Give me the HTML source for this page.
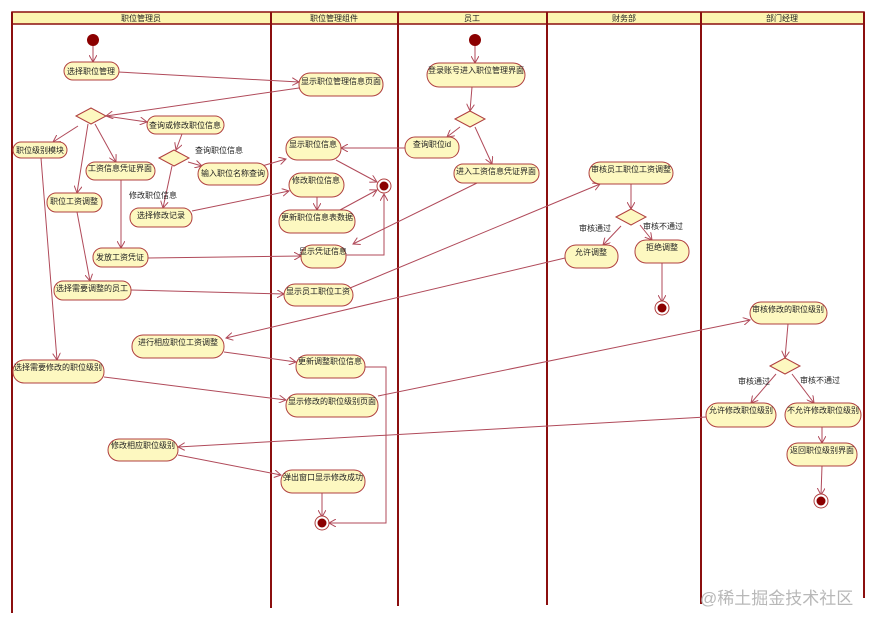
<!DOCTYPE html>
<html><head><meta charset="utf-8"><style>
html,body{margin:0;padding:0;background:#fff;}
svg{display:block;}
text{font-family:"Liberation Sans","Noto Sans CJK SC",sans-serif;font-size:8px;fill:#222;}
.n{fill:#fdf8c0;stroke:#b04040;stroke-width:1;}
.e{stroke:#b04a5a;stroke-width:1;fill:none;marker-end:url(#a);}
.l{stroke:#8b0f0f;stroke-width:2;}
</style></head><body>
<svg width="878" height="626" viewBox="0 0 878 626" xmlns="http://www.w3.org/2000/svg">
<defs><marker id="a" markerWidth="8" markerHeight="8" refX="7" refY="4" orient="auto" markerUnits="userSpaceOnUse"><path d="M0,0 L7,4 L0,8" fill="none" stroke="#b04a5a" stroke-width="1"/></marker></defs>
<rect x="12" y="12" width="852" height="12" fill="#fdf5b0" stroke="#8b0f0f" stroke-width="1.5"/>
<line class="l" x1="12" y1="12" x2="12" y2="613"/>
<line class="l" x1="271" y1="12" x2="271" y2="608"/>
<line class="l" x1="398" y1="12" x2="398" y2="606"/>
<line class="l" x1="547" y1="12" x2="547" y2="605"/>
<line class="l" x1="701" y1="12" x2="701" y2="604"/>
<line class="l" x1="864" y1="12" x2="864" y2="598"/>
<g text-anchor="middle">
<text x="141" y="21">职位管理员</text><text x="334" y="21">职位管理组件</text><text x="472" y="21">员工</text><text x="624" y="21">财务部</text><text x="782" y="21">部门经理</text>
</g>
<g>
<path class="e" d="M93,46 L93,62"/>
<path class="e" d="M118,72 L299,82"/>
<path class="e" d="M299,88 L106,116"/>
<path class="e" d="M106,116 L147,122"/>
<path class="e" d="M78,126 L53,142"/>
<path class="e" d="M88,124 L77,193"/>
<path class="e" d="M95,124 L116,162"/>
<path class="e" d="M182,134 L176,150"/>
<path class="e" d="M188,162 L202,166"/>
<path class="e" d="M172,166 L163,208"/>
<path class="e" d="M262,166 L286,159"/>
<path class="e" d="M192,211 L289,191"/>
<path class="e" d="M336,160 L377,182"/>
<path class="e" d="M317,197 L317,210"/>
<path class="e" d="M340,210 L377,190"/>
<path class="e" d="M346,255 L384,255 L384,194"/>
<path class="e" d="M121,180 L121,248"/>
<path class="e" d="M148,258 L301,256"/>
<path class="e" d="M477,183 L353,244"/>
<path class="e" d="M77,212 L90,281"/>
<path class="e" d="M131,290 L284,294"/>
<path class="e" d="M350,288 L600,184"/>
<path class="e" d="M631,184 L631,209"/>
<path class="e" d="M621,226 L603,245"/>
<path class="e" d="M640,225 L652,240"/>
<path class="e" d="M662,263 L662,302"/>
<path class="e" d="M565,258 L226,338"/>
<path class="e" d="M41,158 L57,360"/>
<path class="e" d="M224,352 L296,362"/>
<path class="e" d="M365,367 L386,367 L386,523 L329,523"/>
<path class="e" d="M104,377 L286,400"/>
<path class="e" d="M378,396 L750,320"/>
<path class="e" d="M788,324 L785,358"/>
<path class="e" d="M776,374 L751,403"/>
<path class="e" d="M792,374 L814,403"/>
<path class="e" d="M822,427 L822,443"/>
<path class="e" d="M822,466 L821,495"/>
<path class="e" d="M706,417 L178,447"/>
<path class="e" d="M178,455 L281,475"/>
<path class="e" d="M322,493 L322,517"/>
<path class="e" d="M475,46 L475,63"/>
<path class="e" d="M472,87 L470,111"/>
<path class="e" d="M460,127 L447,137"/>
<path class="e" d="M475,127 L492,164"/>
<path class="e" d="M405,148 L341,148"/>
</g>
<g fill="#8b0000">
<circle cx="93" cy="40" r="6"/><circle cx="475" cy="40" r="6"/>
</g>
<g>
<circle cx="384" cy="186" r="7" fill="#fff" stroke="#b04040"/><circle cx="384" cy="186" r="4.5" fill="#8b0000"/>
<circle cx="662" cy="308" r="7" fill="#fff" stroke="#b04040"/><circle cx="662" cy="308" r="4.5" fill="#8b0000"/>
<circle cx="821" cy="501" r="7" fill="#fff" stroke="#b04040"/><circle cx="821" cy="501" r="4.5" fill="#8b0000"/>
<circle cx="322" cy="523" r="7" fill="#fff" stroke="#b04040"/><circle cx="322" cy="523" r="4.5" fill="#8b0000"/>
</g>
<g class="n">
<polygon points="76,116 91,108 106,116 91,124"/>
<polygon points="159,158 174,150 189,158 174,166"/>
<polygon points="455,119 470,111 485,119 470,127"/>
<polygon points="616,217 631,209 646,217 631,225"/>
<polygon points="770,366 785,358 800,366 785,374"/>
</g>
<g class="n">
<rect x="64" y="62" width="55" height="18" rx="9"/>
<rect x="299" y="73" width="84" height="23" rx="11"/>
<rect x="147" y="116" width="77" height="18" rx="9"/>
<rect x="13" y="142" width="54" height="16" rx="8"/>
<rect x="86" y="162" width="69" height="18" rx="9"/>
<rect x="198" y="163" width="70" height="22" rx="11"/>
<rect x="47" y="193" width="55" height="19" rx="9"/>
<rect x="130" y="208" width="62" height="19" rx="9"/>
<rect x="93" y="248" width="55" height="19" rx="9"/>
<rect x="54" y="281" width="77" height="19" rx="9"/>
<rect x="286" y="137" width="55" height="23" rx="11"/>
<rect x="289" y="173" width="55" height="24" rx="12"/>
<rect x="279" y="210" width="76" height="23" rx="11"/>
<rect x="301" y="245" width="45" height="23" rx="11"/>
<rect x="284" y="284" width="69" height="22" rx="11"/>
<rect x="427" y="63" width="98" height="24" rx="12"/>
<rect x="405" y="137" width="54" height="21" rx="10"/>
<rect x="454" y="164" width="85" height="19" rx="9"/>
<rect x="589" y="162" width="84" height="22" rx="11"/>
<rect x="565" y="245" width="53" height="23" rx="11"/>
<rect x="635" y="240" width="54" height="23" rx="11"/>
<rect x="750" y="302" width="77" height="22" rx="11"/>
<rect x="132" y="335" width="92" height="23" rx="11"/>
<rect x="296" y="355" width="69" height="23" rx="11"/>
<rect x="13" y="360" width="91" height="23" rx="11"/>
<rect x="286" y="394" width="92" height="23" rx="11"/>
<rect x="706" y="403" width="70" height="24" rx="12"/>
<rect x="785" y="403" width="76" height="24" rx="12"/>
<rect x="108" y="439" width="70" height="22" rx="11"/>
<rect x="787" y="443" width="70" height="23" rx="11"/>
<rect x="281" y="470" width="84" height="23" rx="11"/>
</g>
<g text-anchor="middle">
<text x="91" y="74">选择职位管理</text>
<text x="341" y="84">显示职位管理信息页面</text>
<text x="185" y="128">查询或修改职位信息</text>
<text x="40" y="153">职位级别模块</text>
<text x="120" y="171">工资信息凭证界面</text>
<text x="233" y="176">输入职位名称查询</text>
<text x="74" y="204">职位工资调整</text>
<text x="161" y="218">选择修改记录</text>
<text x="120" y="260">发放工资凭证</text>
<text x="92" y="291">选择需要调整的员工</text>
<text x="313" y="147">显示职位信息</text>
<text x="316" y="183">修改职位信息</text>
<text x="317" y="220">更新职位信息表数据</text>
<text x="323" y="254">显示凭证信息</text>
<text x="318" y="294">显示员工职位工资</text>
<text x="476" y="73">登录账号进入职位管理界面</text>
<text x="432" y="147">查询职位id</text>
<text x="496" y="174">进入工资信息凭证界面</text>
<text x="631" y="172">审核员工职位工资调整</text>
<text x="591" y="255">允许调整</text>
<text x="662" y="250">拒绝调整</text>
<text x="788" y="312">审核修改的职位级别</text>
<text x="178" y="345">进行相应职位工资调整</text>
<text x="330" y="364">更新调整职位信息</text>
<text x="58" y="370">选择需要修改的职位级别</text>
<text x="332" y="404">显示修改的职位级别页面</text>
<text x="741" y="413">允许修改职位级别</text>
<text x="823" y="413">不允许修改职位级别</text>
<text x="143" y="448">修改相应职位级别</text>
<text x="822" y="453">返回职位级别界面</text>
<text x="323" y="480">弹出窗口显示修改成功</text>
</g>
<g>
<text x="195" y="153">查询职位信息</text>
<text x="129" y="198">修改职位信息</text>
<text x="579" y="231">审核通过</text>
<text x="643" y="229">审核不通过</text>
<text x="738" y="384">审核通过</text>
<text x="800" y="383">审核不通过</text>
</g>
<text x="700" y="604" style="font-size:17px;fill:#b8b8b8">@稀土掘金技术社区</text>
</svg>
</body></html>
